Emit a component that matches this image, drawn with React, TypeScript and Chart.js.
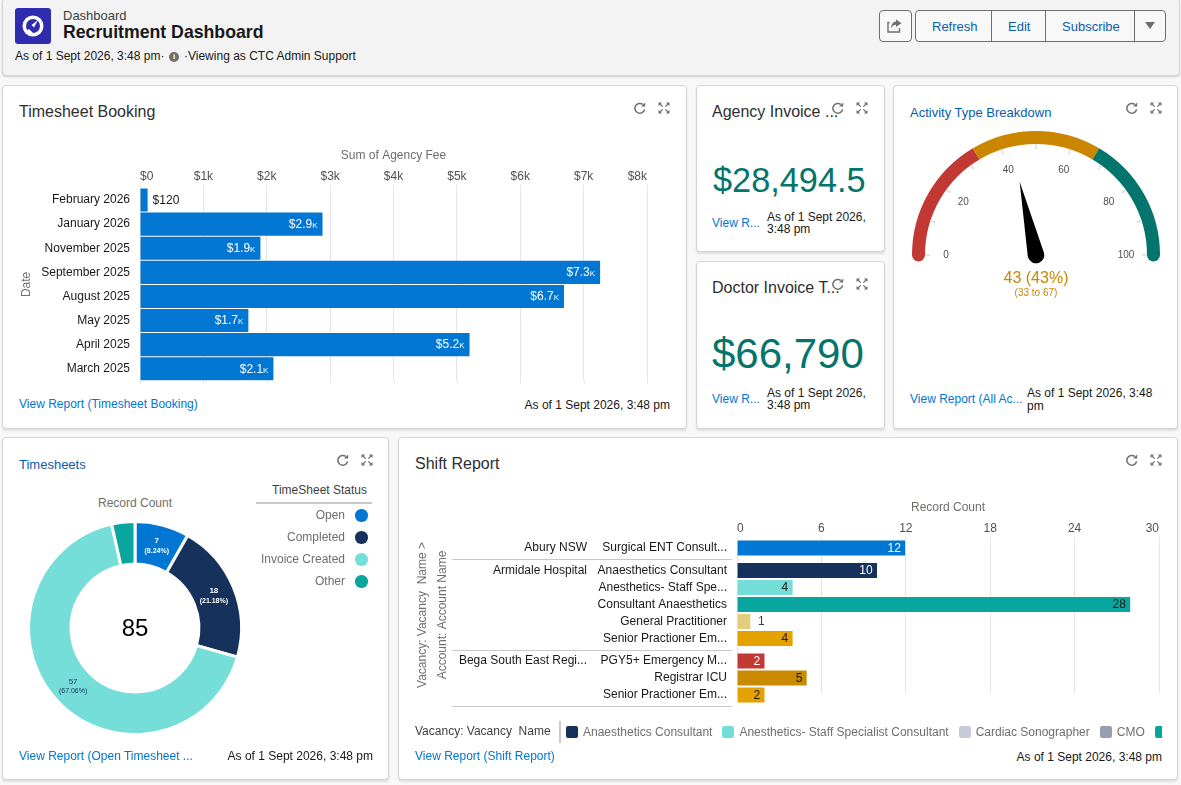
import React, { useEffect, useRef } from 'react';
import { Chart, CategoryScale, registerables } from 'chart.js';

Chart.register(...registerables);

const FONT = '"Liberation Sans", Arial, sans-serif';
const AS_OF = 'As of 1 Sept 2026, 3:48 pm';

// Timesheet Booking
const bookingMonths = ['February 2026', 'January 2026', 'November 2025', 'September 2025', 'August 2025', 'May 2025', 'April 2025', 'March 2025'];
const bookingFees = [120, 2880, 1900, 7260, 6690, 1710, 5200, 2105];

// Timesheets donut
const statusNames = ['Open', 'Completed', 'Invoice Created', 'Other'];
const statusCounts = [7, 18, 57, 3];
const statusColors = ['#0176d3', '#16325c', '#76ded9', '#08a69e'];
const statusInk = ['#ffffff', '#ffffff', '#16325c', ''];

// Activity gauge
const gaugeValue = 43;
const gaugeBands = [33, 34, 33];
const gaugeColors = ['#c23934', '#cb8600', '#04756c'];
const gaugeMinor = [0, 10, 20, 30, 40, 50, 60, 70, 80, 90, 100];
const gaugeLabels = [0, 20, 40, 60, 80, 100];

// Shift Report
const shiftAccounts = ['Abury NSW', 'Armidale Hospital', '', '', '', '', 'Bega South East Regi...', '', ''];
const shiftVacancies = ['Surgical ENT Consult...', 'Anaesthetics Consultant', 'Anesthetics- Staff Spe...', 'Consultant Anaesthetics', 'General Practitioner', 'Senior Practioner Em...', 'PGY5+ Emergency M...', 'Registrar ICU', 'Senior Practioner Em...'];
const shiftCounts = [12, 10, 4, 28, 1, 4, 2, 5, 2];
const shiftColors = ['#0176d3', '#16325c', '#76ded9', '#08a69e', '#e2ce7d', '#e4a201', '#c23934', '#c98a00', '#e4a201'];
const shiftInk = ['#ffffff', '#ffffff', '#181818', '#181818', '#3e3e3c', '#181818', '#ffffff', '#181818', '#181818'];
const shiftGroupStarts = [1, 6];
const legendNames = ['Anaesthetics Consultant', 'Anesthetics- Staff Specialist Consultant', 'Cardiac Sonographer', 'CMO', 'Consultant Anaesthetics'];
const legendColors = ['#16325c', '#76ded9', '#c7ccd9', '#969faf', '#08a69e'];

// category scale whose rows keep a fixed height, with an extra gap before each account group
class GroupedRowScale extends CategoryScale {
  static id = 'groupedRow';
  static defaults = CategoryScale.defaults;
  getPixelForValue(value: any) {
    const i = typeof value === 'number' ? value : (this as any).parse(value);
    const gaps = shiftGroupStarts.filter((g) => g <= i).length;
    return (this as any).top + 11 + i * 17 + gaps * 5.5;
  }
}
Chart.register(GroupedRowScale as any);

const kilo = (v: number) => (v < 1000 ? `$${v}` : `$${(v / 1000).toFixed(1)}k`);

// short grid stub under the plot, the x grid runs a little past the bars
const gridStub = {
  id: 'gridStub',
  afterDraw(chart: any) {
    const { ctx, scales, chartArea } = chart;
    ctx.save();
    ctx.strokeStyle = '#e5e5e5';
    scales.x.ticks.forEach((_: any, i: number) => {
      const x = Math.round(scales.x.getPixelForTick(i)) + 0.5;
      ctx.beginPath();
      ctx.moveTo(x, chartArea.bottom);
      ctx.lineTo(x, chartArea.bottom + 3);
      ctx.stroke();
    });
    ctx.restore();
  },
};

const bookingLabels = {
  id: 'bookingLabels',
  afterDatasetsDraw(chart: any) {
    const { ctx } = chart;
    ctx.save();
    ctx.font = `small-caps 12px ${FONT}`;
    ctx.textBaseline = 'middle';
    chart.getDatasetMeta(0).data.forEach((bar: any, i: number) => {
      const v = bookingFees[i];
      const inside = v >= 1000;
      ctx.textAlign = inside ? 'right' : 'left';
      ctx.fillStyle = inside ? '#ffffff' : '#181818';
      ctx.fillText(kilo(v), inside ? bar.x - 5 : bar.x + 5, bar.y + 0.5);
    });
    ctx.restore();
  },
};

const donutLabels = {
  id: 'donutLabels',
  afterDatasetsDraw(chart: any) {
    const { ctx } = chart;
    const total = statusCounts.reduce((a, b) => a + b, 0);
    const arcs = chart.getDatasetMeta(0).data;
    ctx.save();
    ctx.textAlign = 'center';
    ctx.textBaseline = 'middle';
    arcs.forEach((arc: any, i: number) => {
      if (!statusInk[i]) return;
      const p = arc.tooltipPosition();
      const weight = statusInk[i] === '#ffffff' ? 'bold ' : '';
      ctx.fillStyle = statusInk[i];
      ctx.font = `${weight}8px ${FONT}`;
      ctx.fillText(String(statusCounts[i]), p.x, p.y - 5);
      ctx.font = `${weight}7px ${FONT}`;
      ctx.fillText(`(${((statusCounts[i] / total) * 100).toFixed(2)}%)`, p.x, p.y + 5);
    });
    ctx.fillStyle = '#000000';
    ctx.font = `24px ${FONT}`;
    ctx.fillText(String(total), arcs[0].x, arcs[0].y + 1);
    ctx.restore();
  },
};

const gaugeDial = {
  id: 'gaugeDial',
  afterDatasetsDraw(chart: any) {
    const { ctx } = chart;
    const arcs = chart.getDatasetMeta(0).data;
    const { x: cx, y: cy, outerRadius: outer, innerRadius: inner } = arcs[0];
    const polar = (v: number, r: number) => {
      const a = Math.PI * (1 - v / 100);
      return [cx + r * Math.cos(a), cy - r * Math.sin(a)];
    };
    ctx.save();
    // round the two ends of the band
    const capR = (outer - inner) / 2;
    [[gaugeColors[0], 0], [gaugeColors[2], 100]].forEach(([color, v]: any) => {
      const [x, y] = polar(v, inner + capR);
      ctx.fillStyle = color;
      ctx.beginPath();
      ctx.arc(x, y, capR, 0, Math.PI * 2);
      ctx.fill();
    });
    ctx.strokeStyle = '#dddbda';
    ctx.lineWidth = 1.5;
    gaugeMinor.forEach((v) => {
      const [x1, y1] = polar(v, inner);
      const [x2, y2] = polar(v, inner - 5);
      ctx.beginPath();
      ctx.moveTo(x1, y1);
      ctx.lineTo(x2, y2);
      ctx.stroke();
    });
    ctx.fillStyle = '#514f4d';
    ctx.font = `10px ${FONT}`;
    ctx.textAlign = 'center';
    ctx.textBaseline = 'middle';
    gaugeLabels.forEach((v) => {
      const [x, y] = polar(v, 90);
      ctx.fillText(String(v), x, y + 0.5);
    });
    // needle
    const [tx, ty] = polar(gaugeValue, 75);
    const ang = Math.atan2(ty - cy, tx - cx);
    const hub = 8.3;
    ctx.fillStyle = '#000000';
    ctx.beginPath();
    ctx.moveTo(tx, ty);
    ctx.arc(cx, cy, hub, ang + Math.PI / 2 - 0.1, ang - Math.PI / 2 + 0.1);
    ctx.closePath();
    ctx.fill();
    ctx.fillStyle = gaugeColors[1];
    ctx.font = `16px ${FONT}`;
    ctx.fillText(`${gaugeValue} (${gaugeValue}%)`, cx, cy + 24);
    ctx.font = `10px ${FONT}`;
    ctx.fillText(`(${gaugeBands[0]} to ${gaugeBands[0] + gaugeBands[1]})`, cx, cy + 38);
    ctx.restore();
  },
};

const shiftMarks = {
  id: 'shiftMarks',
  afterDatasetsDraw(chart: any) {
    const { ctx, scales } = chart;
    ctx.save();
    ctx.font = `12px ${FONT}`;
    ctx.textBaseline = 'middle';
    chart.getDatasetMeta(0).data.forEach((bar: any, i: number) => {
      const v = shiftCounts[i];
      const inside = v > 1;
      ctx.textAlign = inside ? 'right' : 'left';
      ctx.fillStyle = shiftInk[i];
      ctx.fillText(String(v), inside ? bar.x - 5 : bar.x + 7, bar.y + 0.5);
    });
    // rules closing each account group
    ctx.strokeStyle = '#c9c9c9';
    const lastRows = [...shiftGroupStarts.map((g) => g - 1), shiftCounts.length - 1];
    lastRows.forEach((row) => {
      const y = Math.round(scales.y.getPixelForValue(row) + 11) + 0.5;
      ctx.beginPath();
      ctx.moveTo(47, y);
      ctx.lineTo(chart.chartArea.left - 5, y);
      ctx.stroke();
    });
    ctx.restore();
  },
};

const useChart = (build: () => any) => {
  const ref = useRef<HTMLCanvasElement>(null);
  useEffect(() => {
    if (!ref.current) return;
    const chart = new Chart(ref.current, build());
    return () => chart.destroy();
  }, []);
  return ref;
};

const axisFont = { family: FONT, size: 12 };

const bookingConfig = () => ({
  type: 'bar',
  data: {
    labels: bookingMonths,
    datasets: [{ data: bookingFees, backgroundColor: '#0176d3', borderWidth: 0, barPercentage: 1, categoryPercentage: 0.96 }],
  },
  options: {
    indexAxis: 'y',
    animation: false,
    responsive: false,
    layout: { autoPadding: false, padding: { bottom: 6 } },
    plugins: { legend: { display: false }, tooltip: { enabled: false } },
    scales: {
      x: {
        position: 'top',
        min: 0,
        max: 8000,
        afterFit: (s: any) => { s.height = 58; },
        title: { display: true, text: 'Sum of Agency Fee', color: '#706e6b', font: axisFont, padding: { top: 18, bottom: 0 } },
        grid: { color: '#e5e5e5', tickLength: 3, tickColor: '#e5e5e5' },
        border: { display: false },
        ticks: { stepSize: 1000, color: '#514f4d', padding: 1, maxRotation: 0, align: 'inner', font: { ...axisFont, style: 'small-caps' }, callback: (v: any) => (v === 0 ? '$0' : `$${v / 1000}k`) },
      },
      y: {
        afterFit: (s: any) => { s.width = 135; },
        title: { display: true, text: 'Date', color: '#706e6b', font: axisFont, padding: { top: 14, bottom: 0 } },
        grid: { display: false },
        border: { display: false },
        ticks: { color: '#181818', padding: 2, autoSkip: false, font: axisFont },
      },
    },
  },
  plugins: [bookingLabels, gridStub],
});

const donutConfig = () => ({
  type: 'doughnut',
  data: {
    labels: statusNames,
    datasets: [{ data: statusCounts, backgroundColor: statusColors, borderColor: '#ffffff', borderWidth: 3, borderJoinStyle: 'miter' }],
  },
  options: {
    animation: false,
    responsive: false,
    cutout: '60%',
    layout: { padding: { left: 22, right: 22, top: 30, bottom: 14 } },
    plugins: { legend: { display: false }, tooltip: { enabled: false } },
  },
  plugins: [donutLabels],
});

const gaugeConfig = () => ({
  type: 'doughnut',
  data: { labels: ['Low', 'Mid', 'High'], datasets: [{ data: gaugeBands, backgroundColor: gaugeColors, borderWidth: 0 }] },
  options: {
    animation: false,
    responsive: false,
    rotation: -90,
    circumference: 180,
    cutout: '89.5%',
    layout: { padding: { left: 12, right: 12, top: 6, bottom: 50 } },
    plugins: { legend: { display: false }, tooltip: { enabled: false } },
  },
  plugins: [gaugeDial],
});

const shiftConfig = () => ({
  type: 'bar',
  data: {
    labels: shiftVacancies,
    datasets: [{ data: shiftCounts, backgroundColor: shiftColors, borderColor: 'rgba(255,255,255,0.35)', borderWidth: 1, barThickness: 16.5, clip: false }],
  },
  options: {
    indexAxis: 'y',
    animation: false,
    responsive: false,
    layout: { autoPadding: false, padding: { bottom: 29 } },
    plugins: { legend: { display: false }, tooltip: { enabled: false } },
    scales: {
      x: {
        position: 'top',
        min: 0,
        max: 30,
        afterFit: (s: any) => { s.height = 45; },
        title: { display: true, text: 'Record Count', color: '#706e6b', font: axisFont, padding: { top: 8, bottom: 0 } },
        grid: { color: '#e5e5e5', tickLength: 0 },
        border: { display: false },
        ticks: { stepSize: 6, color: '#514f4d', padding: 1, maxRotation: 0, align: 'inner', font: axisFont },
      },
      y: {
        type: 'groupedRow',
        weight: 1,
        afterFit: (s: any) => { s.width = 140; },
        grid: { display: false },
        border: { display: false },
        ticks: { color: '#181818', padding: 2, autoSkip: false, font: axisFont },
      },
      y2: {
        type: 'groupedRow',
        axis: 'y',
        position: 'left',
        labels: shiftAccounts,
        weight: 2,
        afterFit: (s: any) => { s.width = 192; },
        title: { display: true, text: ['Vacancy: Vacancy  Name >', 'Account: Account Name'], color: '#706e6b', font: { ...axisFont, lineHeight: 1.67 }, padding: { top: 8, bottom: 0 } },
        grid: { display: false },
        border: { display: false },
        ticks: { color: '#181818', padding: 2, autoSkip: false, font: axisFont },
      },
    },
  },
  plugins: [shiftMarks],
});

const abs = (x: number, y: number, extra: React.CSSProperties = {}): React.CSSProperties => ({ position: 'absolute', left: x, top: y, whiteSpace: 'pre', ...extra });

const Reload = ({ x, y }: { x: number; y: number }) => (
  <svg style={abs(x - 6, y - 6)} width={12} height={12} viewBox="0 0 12 12">
    <path d="M10.6 7.4A4.9 4.9 0 1 1 8.8 2.4" fill="none" stroke="#706e6b" strokeWidth="1.5" />
    <path d="M11.2 0.4v4.2H7z" fill="#706e6b" />
  </svg>
);

const Expand = ({ x, y }: { x: number; y: number }) => (
  <svg style={abs(x - 6, y - 6)} width={12} height={12} viewBox="0 0 12 12">
    <path d="M0.5 0.5h3.6L0.5 4.1zM11.5 0.5v3.6L7.9 0.5zM0.5 11.5V7.9l3.6 3.6zM11.5 11.5H7.9l3.6-3.6z" fill="#706e6b" />
    <path d="M1.5 1.5L4.6 4.6M10.5 1.5L7.4 4.6M1.5 10.5L4.6 7.4M10.5 10.5L7.4 7.4" stroke="#706e6b" strokeWidth="1.3" />
  </svg>
);

const Card = ({ x, y, w, h }: { x: number; y: number; w: number; h: number }) => (
  <div style={abs(x, y, { width: w - 2, height: h - 2, background: '#fff', border: '1px solid #d4d4d4', borderRadius: 4, boxShadow: '0 2px 2px rgba(0,0,0,0.10)' })} />
);

const Txt = ({ x, y, size = 12, color = '#181818', right, children, extra }: any) => (
  <div style={abs(right !== undefined ? 0 : x, y - size, { fontSize: size, lineHeight: `${size * 2}px`, color, ...(right !== undefined ? { left: 'auto', right: 1181 - right } : {}), ...extra })}>{children}</div>
);

const LINK = '#0176d3';
const TITLE_LINK = '#0b5cab';
const CARD_TITLE = '#2e2e2e';

export default function App() {
  const bookingRef = useChart(bookingConfig);
  const donutRef = useChart(donutConfig);
  const gaugeRef = useChart(gaugeConfig);
  const shiftRef = useChart(shiftConfig);

  useEffect(() => {
    document.body.style.margin = '0';
    document.body.style.background = '#f8f8f8';
  }, []);

  return (
    <div style={{ position: 'relative', width: 1181, height: 785, overflow: 'hidden', fontFamily: FONT, background: '#f8f8f8' }}>
      {/* header */}
      <div style={abs(2, -2, { width: 1176, height: 76, background: '#f3f3f3', border: '1px solid #d4d4d4', borderRadius: 4, boxShadow: '0 1px 2px rgba(0,0,0,0.18)' })} />
      <div style={abs(15, 8, { width: 36, height: 36, background: '#2f2cb0', borderRadius: 3 })} />
      <svg style={abs(22, 15)} width={22} height={22} viewBox="0 0 22 22">
        <circle cx="11" cy="11" r="10.5" fill="#fff" />
        <circle cx="11" cy="11" r="7" fill="#2f2cb0" />
        <path d="M16 5L9.5 10 12 12.5z" fill="#fff" />
        <path d="M4 16l3-2 4 4H6z" fill="#fff" />
      </svg>
      <Txt x={63} y={16} size={13} color="#3e3e3c">Dashboard</Txt>
      <Txt x={63} y={33} size={17.7} extra={{ fontWeight: 700 }}>Recruitment Dashboard</Txt>
      <Txt x={15} y={56} color="#181818">{AS_OF}·</Txt>
      <div style={abs(169, 52, { width: 10, height: 10, borderRadius: 5, background: '#706e6b', color: '#fff', fontSize: 8, lineHeight: '10px', textAlign: 'center', fontWeight: 700 })}>i</div>
      <Txt x={184} y={56} color="#181818">·Viewing as CTC Admin Support</Txt>

      <div style={abs(879, 10, { width: 31, height: 30, border: '1px solid #706e6b', borderRadius: 4, background: '#f8f8f8' })} />
      <svg style={abs(887, 19)} width={16} height={14} viewBox="0 0 16 14">
        <path d="M2.5 3.5H1v9.5h11.5V9" fill="none" stroke="#706e6b" strokeWidth="1.4" />
        <path d="M9 0.5l5.5 3.8L9 8V5.8C6.5 5.8 5 7 4 9.5 4 6 6 2.8 9 2.6z" fill="#706e6b" />
      </svg>
      <div style={abs(915, 10, { width: 249, height: 30, border: '1px solid #706e6b', borderRadius: 4, background: '#f8f8f8' })} />
      {[991, 1045, 1134].map((x) => (
        <div key={x} style={abs(x, 11, { width: 1, height: 30, background: '#706e6b' })} />
      ))}
      <Txt x={932} y={27} size={13} color={TITLE_LINK}>Refresh</Txt>
      <Txt x={1008} y={27} size={13} color={TITLE_LINK}>Edit</Txt>
      <Txt x={1062} y={27} size={13} color={TITLE_LINK}>Subscribe</Txt>
      <div style={abs(1145, 22, { width: 0, height: 0, borderLeft: '5px solid transparent', borderRight: '5px solid transparent', borderTop: '7px solid #706e6b' })} />

      {/* cards */}
      <Card x={2} y={85} w={685} h={344} />
      <Card x={696} y={85} w={189} h={167} />
      <Card x={696} y={261} w={189} h={168} />
      <Card x={893} y={85} w={285} h={344} />
      <Card x={2} y={437} w={387} h={343} />
      <Card x={398} y={437} w={780} h={343} />

      {/* Timesheet Booking */}
      <Txt x={19} y={112} size={16} color={CARD_TITLE}>Timesheet Booking</Txt>
      <Reload x={640} y={108} /><Expand x={664} y={108} />
      <canvas ref={bookingRef} width={643} height={260} style={abs(5, 130, { display: 'block' })} />
      <Txt x={19} y={404} color={LINK}>View Report (Timesheet Booking)</Txt>
      <Txt right={670} y={405}>{AS_OF}</Txt>

      {/* Agency */}
      <Txt x={712} y={112} size={16} color={CARD_TITLE}>Agency Invoice ...</Txt>
      <Reload x={838} y={108} /><Expand x={862} y={108} />
      <Txt x={713} y={180} size={34.3} color="#04756c">$28,494.5</Txt>
      <Txt x={712} y={223} color={LINK}>View R...</Txt>
      <Txt x={767} y={217}>As of 1 Sept 2026,</Txt>
      <Txt x={767} y={229}>3:48 pm</Txt>

      {/* Doctor */}
      <Txt x={712} y={288} size={16} color={CARD_TITLE}>Doctor Invoice T...</Txt>
      <Reload x={838} y={284} /><Expand x={862} y={284} />
      <Txt x={712} y={354} size={42} color="#04756c">$66,790</Txt>
      <Txt x={712} y={399} color={LINK}>View R...</Txt>
      <Txt x={767} y={393}>As of 1 Sept 2026,</Txt>
      <Txt x={767} y={405}>3:48 pm</Txt>

      {/* Activity */}
      <Txt x={910} y={113} size={13} color={TITLE_LINK}>Activity Type Breakdown</Txt>
      <Reload x={1132} y={108} /><Expand x={1156} y={108} />
      <canvas ref={gaugeRef} width={272} height={180} style={abs(900, 125, { display: 'block' })} />
      <Txt x={910} y={399} color={LINK}>View Report (All Ac...</Txt>
      <Txt x={1027} y={393}>As of 1 Sept 2026, 3:48</Txt>
      <Txt x={1027} y={406}>pm</Txt>

      {/* Timesheets */}
      <Txt x={19} y={465} size={13} color={TITLE_LINK}>Timesheets</Txt>
      <Reload x={343} y={460} /><Expand x={367} y={460} />
      <Txt x={98} y={503} color="#706e6b">Record Count</Txt>
      <canvas ref={donutRef} width={260} height={260} style={abs(5, 490, { display: 'block' })} />
      <Txt right={367} y={490} color="#3e3e3c">TimeSheet Status</Txt>
      <div style={abs(256, 502, { width: 116, height: 2, background: '#c9c9c9' })} />
      {statusNames.map((name, i) => (
        <React.Fragment key={name}>
          <Txt right={345} y={515 + i * 22} color="#706e6b">{name}</Txt>
          <div style={abs(355, 509 + i * 22, { width: 12.5, height: 12.5, borderRadius: '50%', background: statusColors[i] })} />
        </React.Fragment>
      ))}
      <Txt x={19} y={756} color={LINK}>View Report (Open Timesheet ...</Txt>
      <Txt right={373} y={756}>{AS_OF}</Txt>

      {/* Shift Report */}
      <Txt x={415} y={464} size={16} color={CARD_TITLE}>Shift Report</Txt>
      <Reload x={1132} y={460} /><Expand x={1156} y={460} />
      <canvas ref={shiftRef} width={755} height={230} style={abs(405, 492, { display: 'block' })} />
      <Txt x={415} y={731} color="#3e3e3c">Vacancy: Vacancy  Name</Txt>
      <div style={abs(559, 721, { width: 2, height: 22, background: '#c9c9c9' })} />
      <div style={abs(566, 722, { width: 596, height: 20, overflow: 'hidden', display: 'flex', alignItems: 'center', gap: 10 })}>
        {legendNames.map((name, i) => (
          <div key={name} style={{ display: 'flex', alignItems: 'center', gap: 5, flex: 'none' }}>
            <span style={{ width: 12, height: 12, borderRadius: 2, background: legendColors[i] }} />
            <span style={{ fontSize: 12, color: '#706e6b' }}>{name}</span>
          </div>
        ))}
      </div>
      <Txt x={415} y={756} color={LINK}>View Report (Shift Report)</Txt>
      <Txt right={1162} y={757}>{AS_OF}</Txt>
    </div>
  );
}
